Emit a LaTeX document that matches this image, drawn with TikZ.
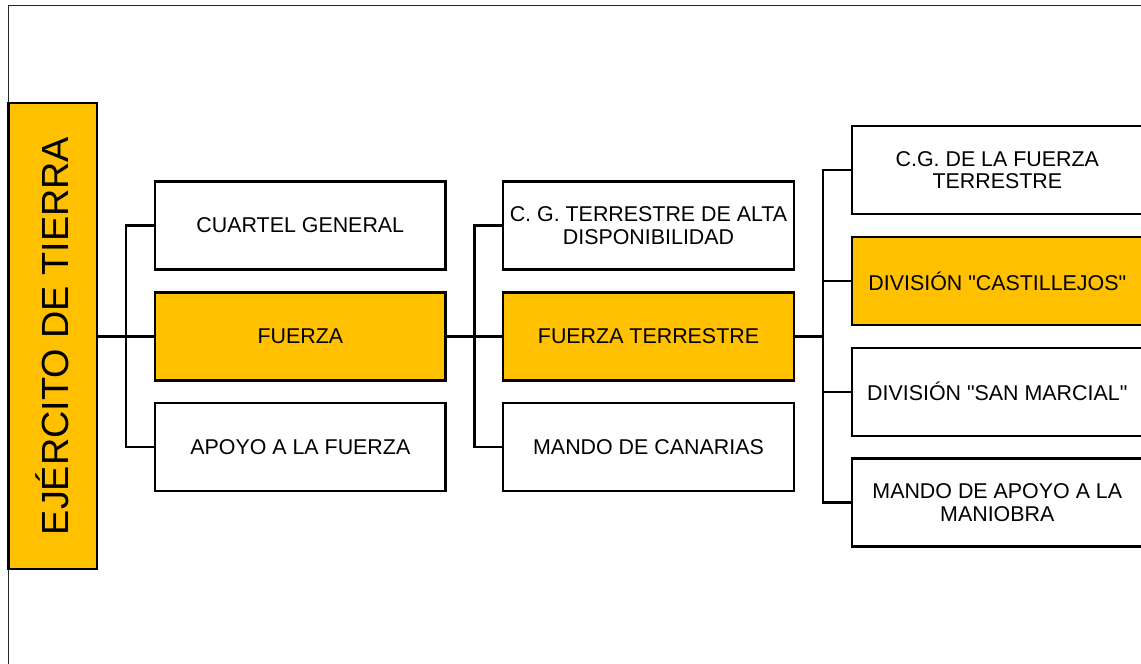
\documentclass[tikz,border=0pt]{standalone}
\usepackage{fontspec}
\setmainfont{Liberation Sans}
\definecolor{gold}{HTML}{FFC000}
\newcommand{\sq}{\XeTeXglyph\the\XeTeXcharglyph"22\relax}
\begin{document}
\begin{tikzpicture}[x=1pt,y=-1pt,
  box/.style={draw=black, line width=2.2pt, minimum width=290.5pt, minimum height=88pt,
    inner sep=0pt, align=center, font=\fontsize{21.4}{22.6}\selectfont, text=black},
  hl/.style={fill=gold},
  wire/.style={line width=2.2pt, draw=black},
  frame/.style={line width=1.2pt, draw=black!85}]
\useasboundingbox (0,0) rectangle (1141,664);
% outer frame (runs off the right and bottom)
\draw[frame] (8.5,680) -- (8.5,5.5) -- (1160,5.5);
% main box
\node[draw=black, line width=2.2pt, fill=gold, minimum width=88.5pt, minimum height=466pt, inner sep=0pt] (army) at (52.7,336) {};
\node[rotate=90, font=\fontsize{37.8}{40}\selectfont, inner sep=0pt] (armylabel) at (army.center) {EJÉRCITO DE TIERRA};
% column 1
\node[box] (c1) at (300.3,225.5) {CUARTEL GENERAL};
\node[box, hl] (c2) at (300.3,336.5) {FUERZA};
\node[box] (c3) at (300.3,447) {APOYO A LA FUERZA};
% column 2
\node[box, minimum width=291pt] (d1) at (648.5,225.5) {C. G. TERRESTRE DE ALTA\\DISPONIBILIDAD};
\node[box, hl, minimum width=291pt] (d2) at (648.5,336.5) {FUERZA TERRESTRE};
\node[box, minimum width=291pt] (d3) at (648.5,447) {MANDO DE CANARIAS};
% column 3
\node[box] (e1) at (997.3,170.2) {C.G. DE LA FUERZA\\TERRESTRE};
\node[box, hl] (e2) at (997.3,281) {DIVISIÓN \sq CASTILLEJOS\sq};
\node[box] (e3) at (997.3,391.7) {DIVISIÓN \sq SAN MARCIAL\sq};
\node[box] (e4) at (997.3,502.5) {MANDO DE APOYO A LA\\MANIOBRA};
% bus coordinates
\coordinate (bus1) at (126.3,336.5);
\coordinate (bus2) at (474.5,336.5);
\coordinate (bus3) at (822.7,336.5);
% connectors
\draw[wire] (army.east |- bus1) -- (c2.west);
\draw[wire] (c1.west) -| (bus1) |- (c3.west);
\draw[wire] (c2.east) -- (d2.west);
\draw[wire] (d1.west) -| (bus2) |- (d3.west);
\draw[wire] (d2.east) -- (bus3);
\draw[wire] (e1.west) -| (bus3) |- (e4.west);
\draw[wire] (e2.west) -- (e2.west -| bus3);
\draw[wire] (e3.west) -- (e3.west -| bus3);
\end{tikzpicture}
\end{document}
